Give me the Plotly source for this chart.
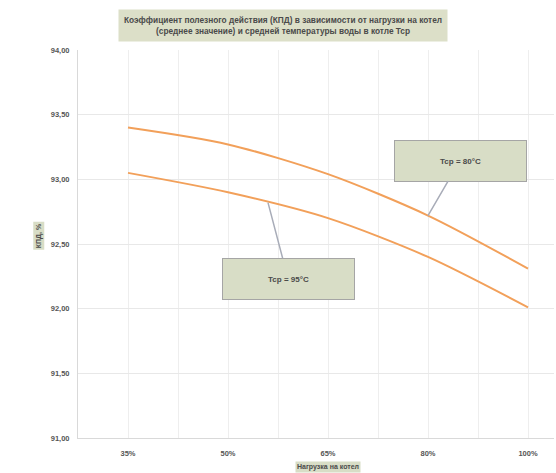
import numpy as np
import plotly.graph_objects as go

categories = ["35%", "50%", "65%", "80%", "100%"]
upper_vals = [93.40, 93.27, 93.04, 92.72, 92.31]   # Tcp = 80°C
lower_vals = [93.05, 92.90, 92.70, 92.40, 92.01]   # Tcp = 95°C
upper_label = "Tcp = 80°C"
lower_label = "Tcp = 95°C"
title_text = ("Коэффициент полезного действия (КПД) в зависимости от нагрузки на котел<br>"
              "(среднее значение) и средней температуры воды в котле Tcp")
x_title = "Нагрузка на котел"
y_title = "КПД, %"
y_ticks = [91.0, 91.5, 92.0, 92.5, 93.0, 93.5, 94.0]

xs = list(range(len(categories)))
FONT = "Liberation Sans, Arial, sans-serif"
LINE_COLOR = "#F2A05A"
BOX_BG = "#D8DDC6"
TXT = "#4A4A4A"

fig = go.Figure()
for vals, name in [(upper_vals, upper_label), (lower_vals, lower_label)]:
    fig.add_trace(go.Scatter(x=xs, y=vals, mode="lines", name=name,
                             line=dict(color=LINE_COLOR, width=2, shape="spline", smoothing=0.8),
                             hoverinfo="x+y"))

# label anchors on curves
ux = 3.0
uy = upper_vals[3]
lx = 1.4
ly = float(np.interp(lx, xs, lower_vals))

annos = [
    dict(x=ux, y=uy, xref="x", yref="y", text="<b>" + upper_label + "</b>",
         showarrow=True, arrowhead=0, arrowwidth=1.5, arrowcolor="#A8ACB8",
         ax=32, ay=-55, width=129, height=38, bgcolor=BOX_BG, bordercolor="#A5A5A5",
         borderwidth=1, font=dict(family=FONT, size=8, color=TXT)),
    dict(x=lx, y=ly, xref="x", yref="y", text="<b>" + lower_label + "</b>",
         showarrow=True, arrowhead=0, arrowwidth=1.5, arrowcolor="#A8ACB8",
         ax=20, ay=76, width=129, height=38, bgcolor=BOX_BG, bordercolor="#A5A5A5",
         borderwidth=1, font=dict(family=FONT, size=8, color=TXT)),
    dict(x=0.43, y=1, xref="paper", yref="paper", yanchor="middle", yshift=25,
         text="<b>" + title_text + "</b>", showarrow=False, bgcolor="#DCDFC8",
         borderpad=5, font=dict(family=FONT, size=8.3, color=TXT)),
    dict(x=-0.5, y=92.56, xref="x", yref="y", xshift=-39, text="<b>" + y_title + "</b>",
         textangle=-90, showarrow=False, bgcolor="#D8DDC6", borderpad=1,
         font=dict(family=FONT, size=7, color=TXT)),
    dict(x=0.525, y=0, xref="paper", yref="paper", yshift=-29, text="<b>" + x_title + "</b>",
         showarrow=False, bgcolor="#D8DDC6", borderpad=1, yanchor="middle",
         font=dict(family=FONT, size=7, color=TXT)),
]

fig.update_layout(
    width=556, height=473,
    margin=dict(l=78, r=2, t=50, b=35),
    paper_bgcolor="white", plot_bgcolor="white",
    showlegend=False,
    separators=", ",
    annotations=annos,
    font=dict(family=FONT, color=TXT),
)
fig.update_xaxes(
    range=[-0.5, 4.26], tickmode="array", tickvals=xs, ticktext=["<b>%s</b>" % c for c in categories],
    showgrid=True, gridcolor="#EEEEEE", gridwidth=1,
    minor=dict(tickmode="array", tickvals=[-0.5, 0.5, 1.5, 2.5, 3.5], showgrid=True,
               gridcolor="#EEEEEE", gridwidth=1),
    showline=True, linecolor="#D9D9D9", linewidth=1, zeroline=False,
    ticks="", ticklabelstandoff=8, tickfont=dict(family=FONT, size=7.5, color="#555555"),
)
fig.update_yaxes(
    range=[91, 94], tickmode="array", tickvals=y_ticks,
    ticktext=["<b>%s</b>" % ("%.2f" % v).replace(".", ",") for v in y_ticks],
    showgrid=True, gridcolor="#E8E8E8", gridwidth=1,
    showline=True, linecolor="#D9D9D9", linewidth=1, zeroline=False,
    ticks="", ticklabelstandoff=6, tickfont=dict(family=FONT, size=7.5, color="#555555"),
)

fig.write_html("out.html")
